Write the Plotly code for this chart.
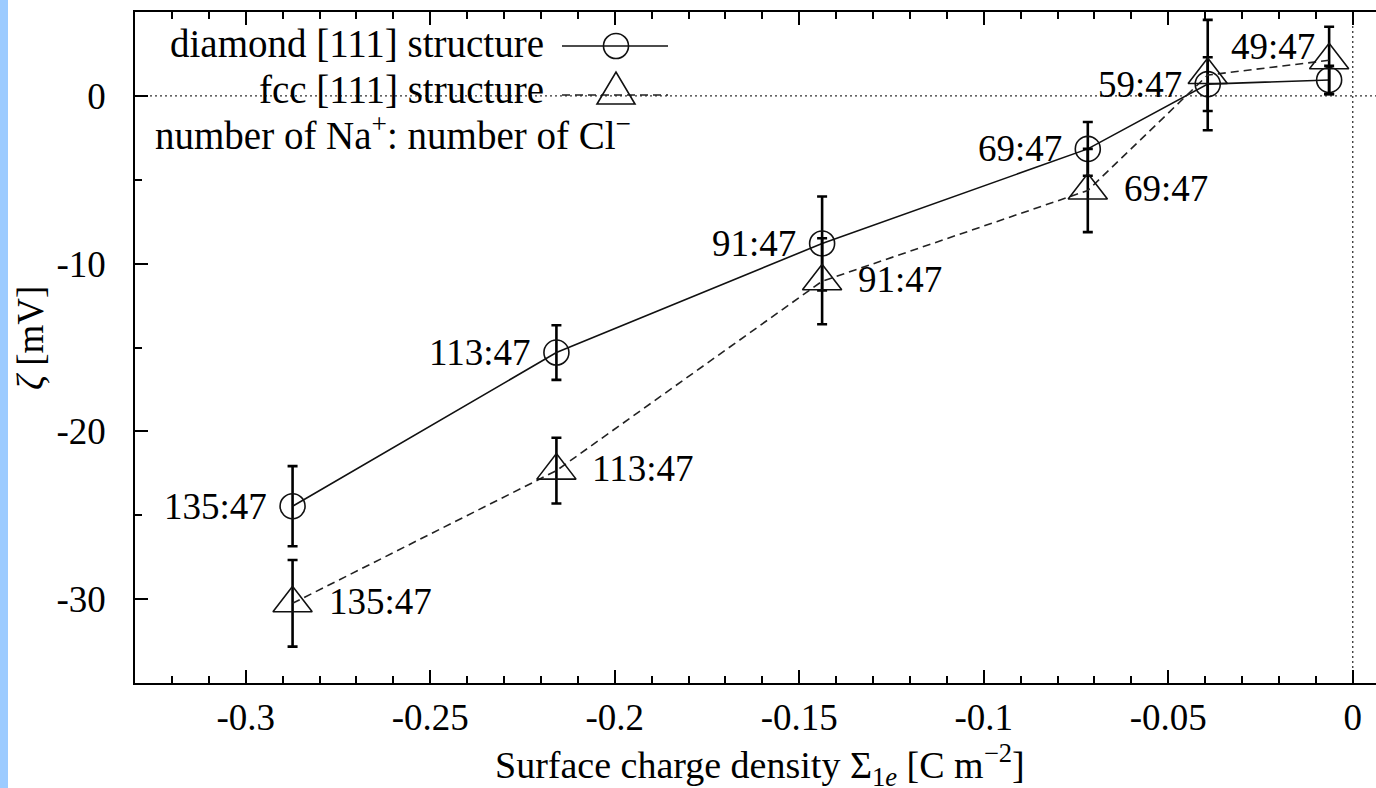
import plotly.graph_objects as go

# ---------------- data ----------------
sigma = [-0.2873, -0.2158, -0.1438, -0.0718, -0.0393, -0.0064]
zeta_diamond = [-24.46, -15.30, -8.80, -3.16, 0.70, 0.95]
err_diamond = [2.39, 1.63, 2.80, 1.60, 1.60, 0.85]
zeta_fcc = [-30.25, -22.34, -11.05, -5.64, 1.24, 2.12]
err_fcc = [2.58, 1.96, 2.56, 2.48, 3.29, 2.00]
labels_diamond = ["135:47", "113:47", "91:47", "69:47", "59:47", "49:47"]
labels_fcc = ["135:47", "113:47", "91:47", "69:47"]
x_tickvals = [-0.3, -0.25, -0.2, -0.15, -0.1, -0.05, 0]
x_ticktext = ["-0.3", "-0.25", "-0.2", "-0.15", "-0.1", "-0.05", "0"]
y_tickvals = [0, -10, -20, -30]
y_ticktext = ["0", "-10", "-20", "-30"]
legend_names = ["diamond [111] structure", "fcc [111] structure",
                "number of Na<sup>+</sup>: number of Cl<sup>\u2212</sup>"]
x_title = "Surface charge density \u03a3<sub>1<i>e</i></sub> [C m<sup>\u22122</sup>]"
y_title = "<i>\u03b6</i> [mV]"

# ---------------- styling / layout constants ----------------
FONT = "Liberation Serif"
FS_NUM = 37      # numbers (tick labels, point labels)
FS_TXT = 39      # words (legend)
FS_XT = 38       # x-axis title
W, H = 1376, 788
ML, MR, MT, MB = 135, 0, 12, 105
PW, PH = W - ML - MR, H - MT - MB


def px_x(p):
    return (p - ML) / PW


def px_y(p):
    return (H - MB - p) / PH


diamond_label_shift = [(-24, 0)] * 5 + [(-12, 33)]
fcc_label_shift = [(34, 2)] * 4

fig = go.Figure()

fig.add_trace(go.Scatter(
    x=sigma, y=zeta_diamond, mode="lines+markers",
    line=dict(color="#111111", width=1.6),
    marker=dict(symbol="circle-open", size=25, color="#111111",
                line=dict(width=1.6, color="#111111")),
    error_y=dict(type="data", array=err_diamond, visible=True,
                 color="#000000", thickness=2.6, width=5),
    showlegend=False,
))
fig.add_trace(go.Scatter(
    x=sigma, y=zeta_fcc, mode="lines+markers",
    line=dict(color="#222222", width=1.6, dash="8px,5px"),
    marker=dict(symbol="triangle-up-open", size=34, color="#111111",
                line=dict(width=1.6, color="#111111")),
    error_y=dict(type="data", array=err_fcc, visible=True,
                 color="#000000", thickness=2.6, width=5),
    showlegend=False,
))

annotations = []
for i, lab in enumerate(labels_diamond):
    dx, dy = diamond_label_shift[i]
    annotations.append(dict(x=sigma[i], y=zeta_diamond[i], xref="x", yref="y",
                            text=lab, showarrow=False, xanchor="right",
                            yanchor="middle", xshift=dx, yshift=dy,
                            font=dict(family=FONT, size=FS_NUM, color="#000")))
for i, lab in enumerate(labels_fcc):
    dx, dy = fcc_label_shift[i]
    annotations.append(dict(x=sigma[i], y=zeta_fcc[i], xref="x", yref="y",
                            text=lab, showarrow=False, xanchor="left",
                            yanchor="middle", xshift=dx, yshift=dy,
                            font=dict(family=FONT, size=FS_NUM, color="#000")))

# legend texts
annotations.append(dict(x=px_x(546), y=px_y(44), xref="paper", yref="paper",
                        text=legend_names[0], showarrow=False, xanchor="right",
                        yanchor="middle", font=dict(family=FONT, size=FS_TXT, color="#000")))
annotations.append(dict(x=px_x(546), y=px_y(89), xref="paper", yref="paper",
                        text=legend_names[1], showarrow=False, xanchor="right",
                        yanchor="middle", font=dict(family=FONT, size=FS_TXT, color="#000")))
annotations.append(dict(x=px_x(153), y=px_y(133), xref="paper", yref="paper",
                        text=legend_names[2], showarrow=False, xanchor="left",
                        yanchor="middle", font=dict(family=FONT, size=FS_TXT, color="#000")))

# axis titles
annotations.append(dict(x=px_x(760), y=px_y(765), xref="paper", yref="paper",
                        text=x_title, showarrow=False, xanchor="center", yanchor="middle",
                        font=dict(family=FONT, size=FS_XT, color="#000")))
annotations.append(dict(x=px_x(30), y=px_y(338), xref="paper", yref="paper",
                        text=y_title, textangle=-90,
                        showarrow=False, xanchor="center", yanchor="middle",
                        font=dict(family=FONT, size=FS_NUM, color="#000")))

shapes = [
    # left light-blue strip of the page
    dict(type="rect", xref="paper", yref="paper", x0=px_x(0), x1=px_x(8),
         y0=px_y(H), y1=px_y(0), fillcolor="#9ccbff", line=dict(width=0),
         layer="above"),
    # zero axes (dotted)
    dict(type="line", xref="paper", yref="y", x0=0, x1=1, y0=0, y1=0,
         line=dict(color="#333", width=1.3, dash="2px,3px"), layer="below"),
    dict(type="line", xref="x", yref="paper", x0=0, x1=0, y0=0, y1=1,
         line=dict(color="#333", width=1.3, dash="2px,3px"), layer="below"),
    # legend samples
    dict(type="line", xref="paper", yref="paper", x0=px_x(562), x1=px_x(668),
         y0=px_y(46), y1=px_y(46), line=dict(color="#111", width=1.6)),
    dict(type="circle", xref="paper", yref="paper",
         x0=px_x(616 - 12.5), x1=px_x(616 + 12.5),
         y0=px_y(46 + 12.5), y1=px_y(46 - 12.5),
         line=dict(color="#111", width=1.6), fillcolor="rgba(0,0,0,0)"),
    dict(type="line", xref="paper", yref="paper", x0=px_x(562), x1=px_x(668),
         y0=px_y(95), y1=px_y(95), line=dict(color="#222", width=1.6, dash="8px,5px")),
    dict(type="path", xref="paper", yref="paper",
         path="M {:.5f},{:.5f} L {:.5f},{:.5f} L {:.5f},{:.5f} Z".format(
             px_x(597), px_y(104), px_x(635), px_y(104), px_x(616), px_y(72)),
         line=dict(color="#111", width=1.6), fillcolor="rgba(0,0,0,0)"),
]

fig.update_layout(
    width=W, height=H,
    margin=dict(l=ML, r=MR, t=MT, b=MB, pad=0),
    paper_bgcolor="white", plot_bgcolor="white",
    font=dict(family=FONT, size=FS_NUM, color="#000"),
    annotations=annotations, shapes=shapes,
    showlegend=False,
)
fig.update_xaxes(
    range=[-0.33, 0.0063], showgrid=False, zeroline=False,
    showline=True, linecolor="#000", linewidth=1.5, mirror="ticks",
    ticks="inside", ticklen=13, tickwidth=1.5, tickcolor="#000",
    tickmode="array", tickvals=x_tickvals, ticktext=x_ticktext,
    tickfont=dict(family=FONT, size=FS_NUM, color="#000"),
    ticklabelstandoff=1,
    minor=dict(ticks="inside", ticklen=7, tickwidth=1.5, tickcolor="#000",
               tickmode="linear", tick0=0, dtick=0.01, showgrid=False),
)
fig.update_yaxes(
    range=[-35, 5], showgrid=False, zeroline=False,
    showline=True, linecolor="#000", linewidth=1.5, mirror=False,
    ticks="inside", ticklen=13, tickwidth=1.5, tickcolor="#000",
    tickmode="array", tickvals=y_tickvals, ticktext=y_ticktext,
    tickfont=dict(family=FONT, size=FS_NUM, color="#000"),
    ticklabelstandoff=20,
    minor=dict(ticks="inside", ticklen=7, tickwidth=1.5, tickcolor="#000",
               tickmode="linear", tick0=0, dtick=5, showgrid=False),
)

fig.write_html("out.html")
